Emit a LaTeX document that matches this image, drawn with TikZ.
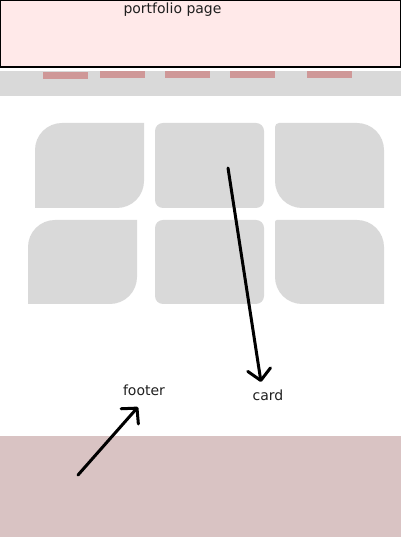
\documentclass[tikz,border=0pt]{standalone}
\usepackage{fontspec}
\setmainfont{DejaVu Sans}
\usetikzlibrary{arrows.meta}
\definecolor{headerpink}{HTML}{FFE9E9}
\definecolor{navgray}{HTML}{D9D9D9}
\definecolor{navlink}{HTML}{CF9898}
\definecolor{footerrose}{HTML}{D9C3C3}
\definecolor{inktext}{HTML}{1E1E1E}
\tikzset{
  label text/.style={font=\fontsize{14pt}{16pt}\selectfont, text=inktext, inner sep=0pt, anchor=base},
  pointer/.style={line width=3pt, line cap=round, line join=round, -{Straight Barb[length=11pt,width=23pt,round]}},
}
\begin{document}
\begin{tikzpicture}[x=1pt,y=1pt]
                \useasboundingbox (0,0) rectangle (401,537);
                % header
                \draw[fill=headerpink, line width=1.2pt] (0.6,470) rectangle (400.4,536.4);
                \node[label text] (title) at (172.5,523) {portfolio page};
                % nav bar
                \fill[navgray] (0,441) rectangle (401,466);
                \fill[navlink] (43,458) rectangle (88,465);
                \fill[navlink] (100,459) rectangle (145,466);
                \fill[navlink] (165,459) rectangle (210,466);
                \fill[navlink] (230,459) rectangle (275,466);
                \fill[navlink] (307,459) rectangle (352,466);
                % cards, top row
                \fill[navgray] (35,329) -- (35,387) arc[start angle=180, end angle=90, radius=27] -- (144,414) -- (144,356) arc[start angle=0, end angle=-90, radius=27] -- cycle;
                \fill[navgray, rounded corners=8pt] (155,329) rectangle (264,414);
                \fill[navgray] (275,356) -- (275,410) arc[start angle=180, end angle=90, radius=4] -- (357,414) arc[start angle=90, end angle=0, radius=27] -- (384,329) -- (302,329) arc[start angle=270, end angle=180, radius=27] -- cycle;
                % cards, bottom row
                \fill[navgray] (28,233) -- (28,290) arc[start angle=180, end angle=90, radius=27] -- (137,317) -- (137,260) arc[start angle=0, end angle=-90, radius=27] -- cycle;
                \fill[navgray, rounded corners=8pt] (155,233) rectangle (264,317);
                \fill[navgray] (275,260) -- (275,315) arc[start angle=180, end angle=90, radius=2] -- (357,317) arc[start angle=90, end angle=0, radius=27] -- (384,233) -- (302,233) arc[start angle=270, end angle=180, radius=27] -- cycle;
                % footer
                \fill[footerrose] (0,0) rectangle (401,101);
                % labels and pointers
                \node[label text] (card) at (268,136) {card};
                \node[label text] (footer) at (144,141) {footer};
                \coordinate (cardfrom) at (228,369);
                \coordinate (cardto) at (261,155);
                \coordinate (footerfrom) at (78,62);
                \coordinate (footerto) at (138,130);
                \draw[pointer] (cardfrom) -- (cardto);
                \draw[pointer] (footerfrom) -- (footerto);
            \end{tikzpicture}
\end{document}
